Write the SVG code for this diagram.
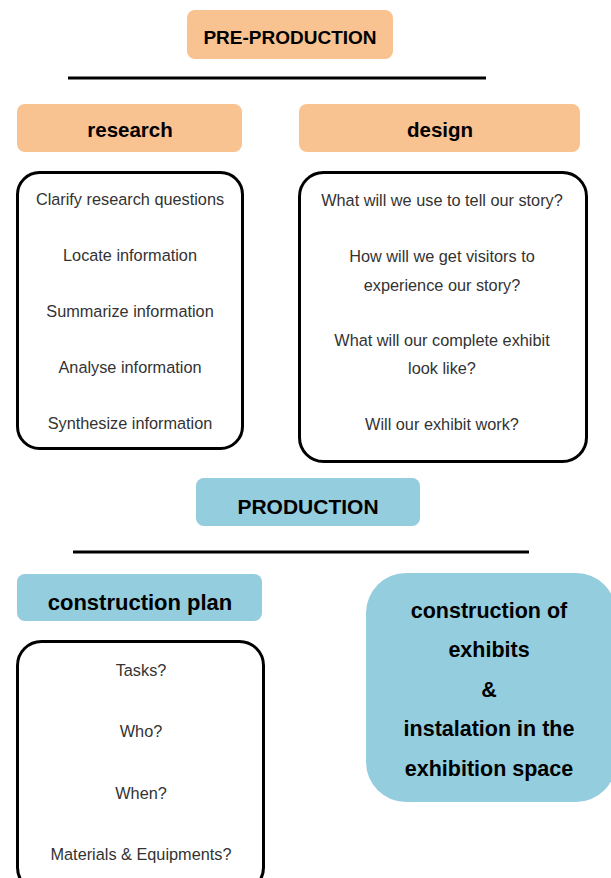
<svg xmlns="http://www.w3.org/2000/svg" width="611" height="878" viewBox="0 0 611 878">
<style>
.or{fill:#F9C291}
.bl{fill:#94CDDE}
.frame{fill:#fff;stroke:#000;stroke-width:3}
.h{font-family:"Liberation Sans",Arial,sans-serif;font-weight:bold;fill:#000;text-anchor:middle}
.t{font-family:"Liberation Sans",Arial,sans-serif;font-size:16.3px;fill:#333;text-anchor:middle}
.rule{stroke:#000;stroke-width:3}
</style>
<rect width="611" height="878" fill="#fff"/>
<g id="pre-production">
<rect class="or" x="187" y="10" width="206" height="49" rx="8"/>
<text class="h" x="290" y="44" font-size="19">PRE-PRODUCTION</text>
</g>
<g id="connectors">
<line class="rule" x1="68" y1="78" x2="486" y2="78"/>
<line class="rule" x1="73" y1="552" x2="529" y2="552"/>
</g>
<g id="research">
<rect class="or" x="17" y="104" width="225" height="48" rx="8"/>
<text class="h" x="130" y="137" font-size="20.5">research</text>
</g>
<g id="design">
<rect class="or" x="299" y="104" width="281" height="48" rx="8"/>
<text class="h" x="440" y="137" font-size="20.5">design</text>
</g>
<g id="research-list">
<rect class="frame" x="17.5" y="172.5" width="225" height="276" rx="22"/>
<text class="t" x="130" y="205">Clarify research questions</text>
<text class="t" x="130" y="261">Locate information</text>
<text class="t" x="130" y="317">Summarize information</text>
<text class="t" x="130" y="373">Analyse information</text>
<text class="t" x="130" y="429">Synthesize information</text>
</g>
<g id="design-list">
<rect class="frame" x="299.5" y="172.5" width="287" height="289" rx="24"/>
<text class="t" x="442" y="206">What will we use to tell our story?</text>
<text class="t" x="442" y="262">How will we get visitors to</text>
<text class="t" x="442" y="291">experience our story?</text>
<text class="t" x="442" y="346">What will our complete exhibit</text>
<text class="t" x="442" y="374">look like?</text>
<text class="t" x="442" y="430">Will our exhibit work?</text>
</g>
<g id="production">
<rect class="bl" x="196" y="478" width="224" height="48" rx="8"/>
<text class="h" x="308" y="514" font-size="21">PRODUCTION</text>
</g>
<g id="construction-plan">
<rect class="bl" x="17" y="574" width="245" height="47" rx="8"/>
<text class="h" x="140" y="610" font-size="22">construction plan</text>
</g>
<g id="construction-list">
<rect class="frame" x="17.5" y="641.5" width="246" height="250" rx="24"/>
<text class="t" x="141" y="676">Tasks?</text>
<text class="t" x="141" y="737">Who?</text>
<text class="t" x="141" y="799">When?</text>
<text class="t" x="141" y="860">Materials &amp; Equipments?</text>
</g>
<g id="construction-exhibits">
<rect class="bl" x="366" y="573" width="250" height="229" rx="40"/>
<text class="h" x="489" y="618" font-size="21.5">construction of</text>
<text class="h" x="489" y="657" font-size="21.5">exhibits</text>
<text class="h" x="489" y="697" font-size="21.5">&amp;</text>
<text class="h" x="489" y="736" font-size="21.5">instalation in the</text>
<text class="h" x="489" y="776" font-size="21.5">exhibition space</text>
</g>
</svg>
